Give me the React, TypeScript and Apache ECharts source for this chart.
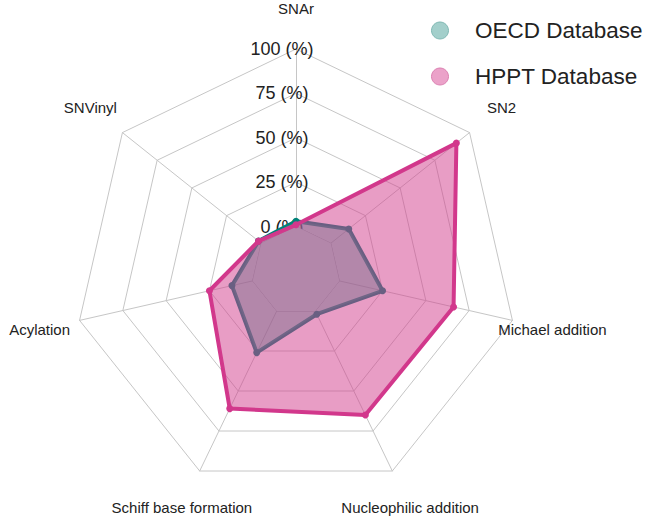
import React, { useEffect, useRef } from "react";
import * as echarts from "echarts";

// Indicators listed counter-clockwise from the top (ECharts radar direction),
// which renders them clockwise as SNAr, SN2, Michael addition, ...
const indicatorNames = [
  "SNAr",
  "SNVinyl",
  "Acylation",
  "Schiff base formation",
  "Nucleophilic addition",
  "Michael addition",
  "SN2",
];

const oecdValues = [3, 2, 12, 26, 2, 25, 13];
const hpptValues = [1, 2, 25, 61, 65, 66, 90.5];

// the 0 % ring, used to mask the axis spokes inside the inner ring
const innerRingValues = [0, 0, 0, 0, 0, 0, 0];

const seriesNames = ["OECD Database", "HPPT Database"];
const axisMin = -25;
const axisMax = 100;

const FONT = "'Liberation Sans', Arial, sans-serif";
const GRID = "#c6c6c6";

export default function App() {
  const ref = useRef<HTMLDivElement>(null);

  useEffect(() => {
    if (!ref.current) return;
    const chart = echarts.init(ref.current, null, { renderer: "svg" });

    const indicator = indicatorNames.map((name, i) => {
      const base: any = { name, min: axisMin, max: axisMax };
      if (i === 0) {
        base.axisLabel = {
          show: true,
          align: "center",
          verticalAlign: "middle",
          margin: 14,
          color: "#222",
          fontSize: 18,
          fontFamily: FONT,
          formatter: (v: number) => (v < 0 ? "" : `${v} (%)`),
        };
      }
      return base;
    });

    chart.setOption({
      animation: false,
      backgroundColor: "#ffffff",
      legend: {
        orient: "vertical",
        left: 426,
        top: 14,
        itemWidth: 60,
        itemHeight: 17,
        itemGap: 23,
        icon: "circle",
        textStyle: {
          color: "#222",
          fontSize: 22.5,
          fontFamily: FONT,
          lineHeight: 22,
        },
        data: [
          {
            name: seriesNames[0],
            itemStyle: { color: "#a3cfcb", borderColor: "#7fb8b3", borderWidth: 1 },
          },
          {
            name: seriesNames[1],
            itemStyle: { color: "#eba2c9", borderColor: "#dc7fb1", borderWidth: 1 },
          },
        ],
      },
      radar: {
        center: [296, 271],
        radius: 222,
        startAngle: 90,
        shape: "polygon",
        splitNumber: 5,
        nameGap: 41,
        indicator,
        axisName: {
          color: "#222",
          fontSize: 15,
          fontFamily: FONT,
          align: "center",
          verticalAlign: "middle",
        },
        splitLine: { lineStyle: { color: GRID, width: 1 } },
        splitArea: { show: false },
        axisLine: { lineStyle: { color: GRID, width: 1 } },
        axisTick: { show: false },
        axisLabel: { show: false },
      },
      series: [
        {
          type: "radar",
          z: 2,
          silent: true,
          symbol: "none",
          lineStyle: { color: GRID, width: 1 },
          areaStyle: { color: "#ffffff", opacity: 1 },
          data: [{ name: "inner", value: innerRingValues }],
        },
        {
          type: "radar",
          z: 3,
          symbol: "circle",
          symbolSize: 7,
          lineStyle: { color: "#008278", width: 4 },
          itemStyle: { color: "#008278" },
          areaStyle: { color: "rgba(30,160,140,0.47)", opacity: 1 },
          data: [{ name: seriesNames[0], value: oecdValues }],
        },
        {
          type: "radar",
          z: 4,
          symbol: "circle",
          symbolSize: 7,
          lineStyle: { color: "#d2378c", width: 4 },
          itemStyle: { color: "#d2378c" },
          areaStyle: { color: "rgba(210,60,140,0.5)", opacity: 1 },
          data: [{ name: seriesNames[1], value: hpptValues }],
        },
      ],
    });

    return () => chart.dispose();
  }, []);

  return (
    <div
      ref={ref}
      style={{ position: "absolute", left: 0, top: 0, width: 645, height: 522 }}
    />
  );
}
